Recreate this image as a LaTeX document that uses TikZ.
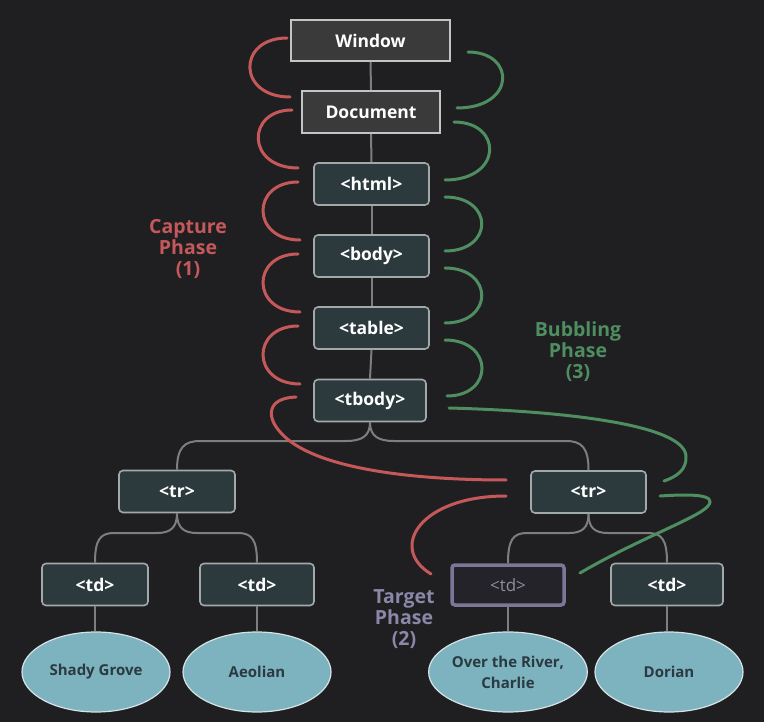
\documentclass[tikz,border=0pt]{standalone}
\usepackage{fontspec}
\setmainfont{Open Sans}
\usetikzlibrary{shapes.geometric}
\definecolor{bg}{HTML}{1F1F22}
\definecolor{winfill}{HTML}{3A3A3A}
\definecolor{winborder}{HTML}{C4C4C4}
\definecolor{tagfill}{HTML}{2C3A3E}
\definecolor{tagborder}{HTML}{A2A9AA}
\definecolor{tgtfill}{HTML}{232329}
\definecolor{tgtborder}{HTML}{7A7896}
\definecolor{tgttext}{HTML}{8E8E9A}
\definecolor{leaffill}{HTML}{7DB2BF}
\definecolor{leafborder}{HTML}{D6E3E6}
\definecolor{leaftext}{HTML}{2A3A40}
\definecolor{connc}{HTML}{7E7E7E}
\definecolor{capc}{HTML}{C5595A}
\definecolor{bubc}{HTML}{4F8E60}
\definecolor{tgtlab}{HTML}{8A87A8}
\tikzset{
  winbox/.style={draw=winborder, line width=1.6pt, fill=winfill, text=white,
    font=\fontsize{17.5}{19}\selectfont\bfseries, inner sep=0pt},
  tagbox/.style={draw=tagborder, line width=1.6pt, fill=tagfill, text=white, rounded corners=4pt,
    font=\fontsize{17.5}{19}\selectfont\bfseries, inner sep=0pt,
    minimum height=42pt},
  tgtbox/.style={draw=tgtborder, line width=3.5pt, fill=tgtfill, text=tgttext, rounded corners=3pt,
    font=\fontsize{17}{19}\selectfont, inner sep=0pt, minimum width=112pt, minimum height=40pt},
  leaf/.style={ellipse, draw=leafborder, line width=1.2pt, fill=leaffill, text=leaftext,
    font=\fontsize{15}{21}\selectfont\bfseries, inner sep=0pt, align=center,
    minimum width=148pt, minimum height=80pt},
  conn/.style={draw=connc, line width=2pt},
  capture/.style={draw=capc, line width=3pt, line cap=round},
  bubble/.style={draw=bubc, line width=3pt, line cap=round},
  phaselab/.style={font=\fontsize{19.5}{21}\selectfont\bfseries, align=center}
}
\begin{document}
\begin{tikzpicture}[x=1pt,y=-1pt]
\fill[bg] (0,0) rectangle (764,722);
\useasboundingbox (0,0) rectangle (764,722);

% stack nodes
\node[winbox, minimum width=159pt, minimum height=41pt] (win) at (370.5,40.5) {Window};
\node[winbox, minimum width=138pt, minimum height=42pt] (doc) at (371,112) {Document};
\node[tagbox, minimum width=115pt] (html) at (371.5,184) {<html>};
\node[tagbox, minimum width=115pt] (body) at (371.5,256) {<body>};
\node[tagbox, minimum width=115pt] (table) at (371.5,328) {<table>};
\node[tagbox, minimum width=112pt] (tbody) at (370,400.5) {<tbody>};
\node[tagbox, minimum width=116pt] (trA) at (177,491.5) {<tr>};
\node[tagbox, minimum width=115pt] (trB) at (588.5,492) {<tr>};
\node[tagbox, minimum width=106pt] (tdA) at (95,584.5) {<td>};
\node[tagbox, minimum width=114pt] (tdB) at (257,584.5) {<td>};
\node[tgtbox] (tdC) at (508,585) {<td>};
\node[tagbox, minimum width=112pt] (tdD) at (667,584.5) {<td>};

\node[leaf] (lfA) at (96,672) {Shady Grove};
\node[leaf] (lfB) at (257,672) {Aeolian};
\node[leaf] (lfC) at (508,672) {Over the River,\\Charlie};
\node[leaf] (lfD) at (669,672) {Dorian};

% vertical connectors
\draw[conn] (win.south) -- (doc.north);
\draw[conn] (doc.south) -- (html.north);
\draw[conn] (html.south) -- (body.north);
\draw[conn] (body.south) -- (table.north);
\draw[conn] (table.south) -- (tbody.north);
\draw[conn] (tdA.south) -- (tdA.south |- lfA.north);
\draw[conn] (tdB.south) -- (tdB.south |- lfB.north);
\draw[conn] (tdC.south) -- (tdC.south |- lfC.north);
\draw[conn] (tdD.south) -- (tdD.south |- lfD.north);

% braces
\draw[conn] (tbody.south) .. controls (370,436) and (362,441) .. (346,441) -- (200,441)
  .. controls (184,441) and (177,448) .. (trA.north);
\draw[conn] (tbody.south) .. controls (370,436) and (378,441) .. (394,441) -- (566,441)
  .. controls (582,441) and (588.5,448) .. (trB.north);
\draw[conn] (trA.south) .. controls (177,528) and (170,533) .. (157,533) -- (114,533)
  .. controls (100,533) and (95,540) .. (tdA.north);
\draw[conn] (trA.south) .. controls (177,528) and (184,533) .. (197,533) -- (238,533)
  .. controls (252,533) and (257,540) .. (tdB.north);
\draw[conn] (trB.south) .. controls (588.5,528) and (582,533) .. (569,533) -- (527,533)
  .. controls (513,533) and (508,540) .. (tdC.north);
\draw[conn] (trB.south) .. controls (588.5,528) and (595,533) .. (608,533) -- (648,533)
  .. controls (662,533) and (667,540) .. (tdD.north);

% capture arcs (red)
\coordinate (c1s) at (287,38);  \coordinate (c1e) at (290,97);
\coordinate (c2s) at (292,110); \coordinate (c2e) at (298,168);
\coordinate (c3s) at (298,182); \coordinate (c3e) at (300,240);
\coordinate (c4s) at (298,254); \coordinate (c4e) at (300,312);
\coordinate (c5s) at (298,326); \coordinate (c5e) at (300,384);
\coordinate (c6s) at (296,397); \coordinate (c6e) at (506,480);
\coordinate (c7s) at (506,496); \coordinate (c7e) at (431,574);
\draw[capture] (c1s) .. controls (237,38) and (237,97) .. (c1e);
\draw[capture] (c2s) .. controls (246,110) and (246,168) .. (c2e);
\draw[capture] (c3s) .. controls (251,182) and (251,240) .. (c3e);
\draw[capture] (c4s) .. controls (251,254) and (251,312) .. (c4e);
\draw[capture] (c5s) .. controls (251,326) and (251,384) .. (c5e);
\draw[capture] (c6s) .. controls (266,398) and (266,418) .. (282,434)
  .. controls (312,466) and (400,480) .. (c6e);
\draw[capture] (c7s) .. controls (420,496) and (388,548) .. (c7e);

% bubbling arcs (green)
\coordinate (b1s) at (468,52);  \coordinate (b1e) at (457,108);
\coordinate (b2s) at (454,122); \coordinate (b2e) at (445,180);
\coordinate (b3s) at (445,197); \coordinate (b3e) at (445,251);
\coordinate (b4s) at (445,268); \coordinate (b4e) at (445,323);
\coordinate (b5s) at (445,340); \coordinate (b5e) at (447,396);
\coordinate (b6s) at (449,408); \coordinate (b6e) at (664,481);
\coordinate (b7s) at (580,573); \coordinate (b7e) at (660,496);
\draw[bubble] (b1s) .. controls (516,52) and (516,108) .. (b1e);
\draw[bubble] (b2s) .. controls (503,122) and (503,180) .. (b2e);
\draw[bubble] (b3s) .. controls (494,197) and (494,251) .. (b3e);
\draw[bubble] (b4s) .. controls (494,268) and (494,323) .. (b4e);
\draw[bubble] (b5s) .. controls (494,340) and (494,396) .. (b5e);
\draw[bubble] (b6s) .. controls (560,411) and (684,424) .. (686,456)
  .. controls (687,470) and (676,477) .. (b6e);
\draw[bubble] (b7s) .. controls (640,538) and (698,518) .. (708,506)
  .. controls (718,494) and (690,494) .. (b7e);

% phase labels
\node[phaselab, text=capc] (caplab) at (188,249) {Capture\\Phase\\(1)};
\node[phaselab, text=bubc] (bublab) at (578,352) {Bubbling\\Phase\\(3)};
\node[phaselab, text=tgtlab] (tgtlabel) at (404,619) {Target\\Phase\\(2)};
\end{tikzpicture}
\end{document}
